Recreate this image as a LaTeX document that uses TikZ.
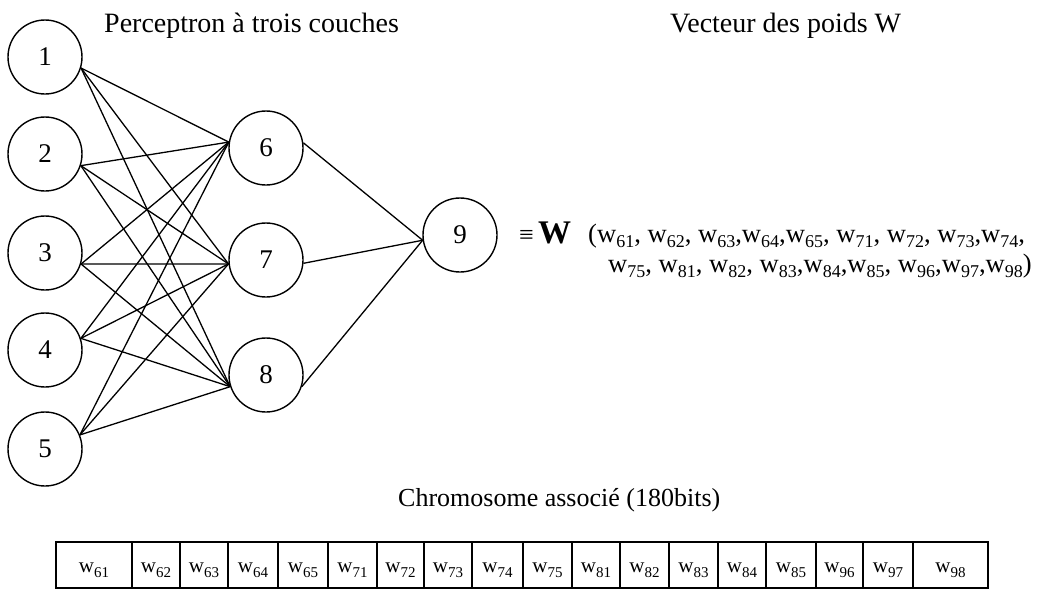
\documentclass[tikz,border=0pt]{standalone}
\usepackage{fontspec}
\setmainfont{Liberation Serif}
\newcommand{\wsub}[2][18]{w\raisebox{-5pt}{\fontsize{#1}{#1}\selectfont #2}}
\begin{document}
\begin{tikzpicture}[x=1pt,y=-1pt,
  neuron/.style={draw, circle, minimum size=74pt, inner sep=0pt, line width=1.4pt, font=\fontsize{27}{27}\selectfont},
  link/.style={line width=1.3pt},
  cell/.style={draw, line width=2.2pt, minimum height=46pt, inner sep=0pt},
  cellt/.style={anchor=base, inner sep=0pt, font=\fontsize{21}{21}\selectfont},
  txt/.style={anchor=base west, inner sep=0pt}]
\useasboundingbox (0,0) rectangle (1042,590);
% neurons
\node[neuron] (n1) at (45,57) {1};
\node[neuron] (n2) at (45,154) {2};
\node[neuron] (n3) at (45,253) {3};
\node[neuron] (n4) at (45,350) {4};
\node[neuron] (n5) at (45,449) {5};
\node[neuron] (n6) at (266,148) {6};
\node[neuron] (n7) at (266,260) {7};
\node[neuron] (n8) at (266,375) {8};
\node[neuron] (n9) at (460,235) {9};
% connections
\foreach \i/\a in {1/-17,2/-18,3/-17,4/18,5/22}
  \foreach \j/\b in {6/171,7/186,8/198}
    \draw[link] (n\i.\a) -- (n\j.\b);
\draw[link] (n6.8) -- (n9.188);
\draw[link] (n7.-5) -- (n9.188);
\draw[link] (n8.-18) -- (n9.188);
% titles
\node[txt, font=\fontsize{28}{28}\selectfont] (t1) at (104,32) {Perceptron à trois couches};
\node[txt, font=\fontsize{28}{28}\selectfont] (t2) at (670,32) {Vecteur des poids W};
% weight vector
\node[txt, font=\fontsize{26}{26}\selectfont] (eq) at (519,243) {≡\,{\fontsize{33}{33}\selectfont\bfseries W}};
\node[txt, font=\fontsize{26.6}{26.6}\selectfont] (v1) at (588,242) {(\wsub{61}, \wsub{62}, \wsub{63},\wsub{64},\wsub{65}, \wsub{71}, \wsub{72}, \wsub{73},\wsub{74},};
\node[txt, font=\fontsize{26.6}{26.6}\selectfont] (v2) at (608,272) {\wsub{75}, \wsub{81}, \wsub{82}, \wsub{83},\wsub{84},\wsub{85}, \wsub{96},\wsub{97},\wsub{98})};
% chromosome
\node[txt, font=\fontsize{26}{26}\selectfont] (chr) at (398,506) {Chromosome associé (180bits)};
\foreach \l/\r/\t [count=\k] in {56/132/61,132/180/62,180/228/63,228/278/64,278/328/65,328/377/71,377/424/72,424/472/73,472/523/74,523/572/75,572/620/81,620/669/82,669/718/83,718/766/84,766/816/85,816/863/96,863/913/97,913/988/98}
{
  \node[cell, minimum width={\r-\l}] (c\k) at ({(\l+\r)/2},565) {};
  \node[cellt] (l\k) at (c\k.center |- 0,572) {\wsub[15]{\t}};
}
\end{tikzpicture}
\end{document}
